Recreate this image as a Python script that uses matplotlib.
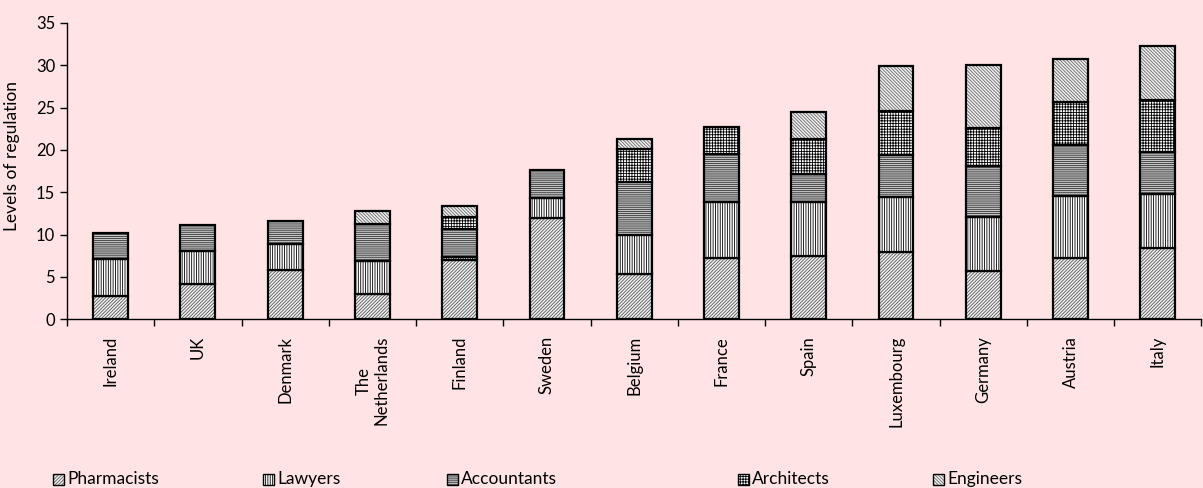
import matplotlib.pyplot as plt
from matplotlib.patches import Rectangle
import numpy as np

plt.rcParams['font.family'] = ['Lato', 'DejaVu Sans']
plt.rcParams['hatch.linewidth'] = 0.6

countries = ["Ireland", "UK", "Denmark", "The\nNetherlands", "Finland", "Sweden",
             "Belgium", "France", "Spain", "Luxembourg", "Germany", "Austria", "Italy"]

pharmacists = [2.75, 4.1, 5.85, 3.0, 7.0, 11.9, 5.35, 7.25, 7.45, 7.9, 5.7, 7.25, 8.35]
lawyers = [4.4, 3.95, 3.0, 3.9, 0.3, 2.4, 4.6, 6.55, 6.4, 6.5, 6.4, 7.3, 6.4]
accountants = [3.0, 3.05, 2.8, 4.4, 3.4, 3.3, 6.25, 5.75, 3.35, 4.95, 6.05, 6.05, 5.0]
architects = [0, 0, 0, 0, 1.4, 0, 3.85, 3.1, 4.1, 5.25, 4.45, 5.1, 6.2]
engineers = [0, 0, 0, 1.5, 1.3, 0, 1.2, 0, 3.15, 5.3, 7.4, 5.0, 6.35]

# name, values, hatch, face colour, hatch colour
series = [
    ("Pharmacists", pharmacists, "/" * 10, "#f2f2f2", "#555555"),
    ("Lawyers", lawyers, "|" * 7, "white", "black"),
    ("Accountants", accountants, "-" * 8, "#c4c4c4", "#333333"),
    ("Architects", architects, "+" * 6, "white", "black"),
    ("Engineers", engineers, "\\" * 10, "#f2f2f2", "#666666"),
]

bg = "#ffe3e5"
fig = plt.figure(figsize=(12.03, 4.88), dpi=100, facecolor=bg)
ax = fig.add_axes([0.0557, 0.346, 0.943, 0.607])
ax.set_facecolor(bg)

x = np.arange(len(countries))
bottom = np.zeros(len(countries))
for name, vals, hatch, fc, hc in series:
    vals = np.array(vals)
    mask = vals > 0
    # hatch pass (hatch takes the edge colour), then black outline
    ax.bar(x[mask], vals[mask], bottom=bottom[mask], width=0.4, color=fc,
           edgecolor=hc, hatch=hatch, linewidth=0)
    ax.bar(x[mask], vals[mask], bottom=bottom[mask], width=0.4, fill=False,
           edgecolor="black", linewidth=1.6)
    bottom += vals

ax.set_xlim(-0.5, len(countries) - 0.5)
ax.set_ylim(0, 35)
ax.set_yticks(range(0, 36, 5))
ax.tick_params(axis="y", labelsize=12, length=5, width=1)
ax.set_ylabel("Levels of regulation", fontsize=12.5)
ax.yaxis.set_label_coords(-0.041, 0.55)

ax.set_xticks(np.arange(len(countries) + 1) - 0.5)
ax.set_xticklabels([])
ax.tick_params(axis="x", which="major", length=5, width=1)
ax.set_xticks(x, minor=True)
ax.set_xticklabels(countries, minor=True, rotation=90, fontsize=12,
                   va="top", ha="center", linespacing=1.1)
ax.tick_params(axis="x", which="minor", length=0, pad=12)

for s in ["top", "right"]:
    ax.spines[s].set_visible(False)
ax.spines["left"].set_linewidth(1)
ax.spines["bottom"].set_linewidth(1)

# legend drawn manually at irregular positions like the original
legend_x = [53, 263, 447, 738, 933]
for (name, vals, hatch, fc, hc), lx in zip(series, legend_x):
    box = (lx / 1203, 1 - 485 / 488)
    fig.add_artist(Rectangle(box, 11 / 1203, 11 / 488, transform=fig.transFigure,
                             facecolor=fc, edgecolor=hc, hatch=hatch, linewidth=0))
    fig.add_artist(Rectangle(box, 11 / 1203, 11 / 488, transform=fig.transFigure,
                             fill=False, edgecolor="black", linewidth=1))
    fig.text((lx + 14) / 1203, 1 - 479 / 488, name, fontsize=12.5,
             va="center", ha="left")

fig.savefig("out.png", dpi=100, facecolor=bg)
